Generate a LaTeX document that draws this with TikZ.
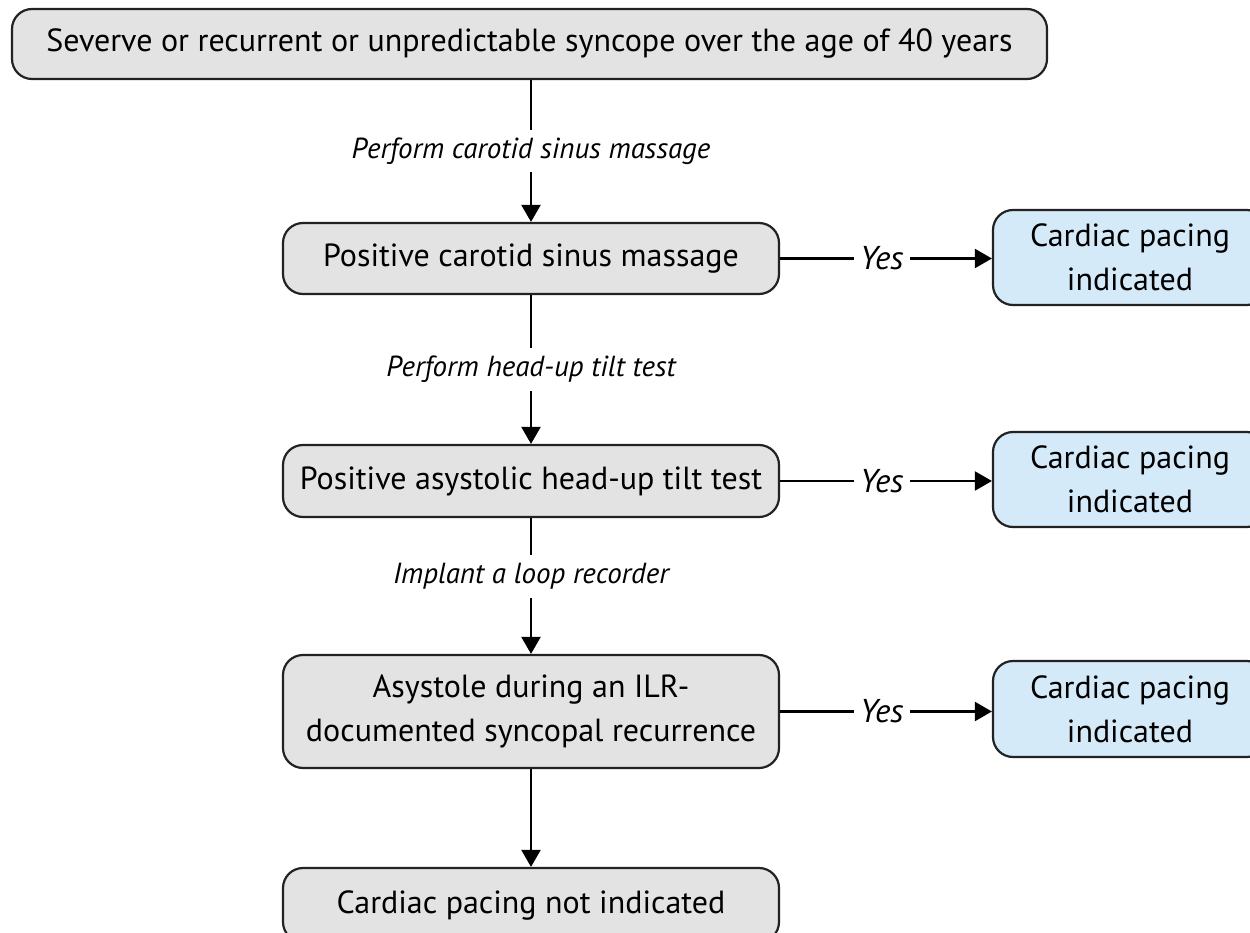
\documentclass[tikz,border=0pt]{standalone}
\usepackage{fontspec}
\setmainfont{PT Sans}
\usetikzlibrary{arrows.meta}
\definecolor{boxgray}{HTML}{E3E3E3}
\definecolor{boxblue}{HTML}{D5EAF9}
\definecolor{edge}{HTML}{222222}
\begin{document}
\begin{tikzpicture}[x=1pt,y=-1pt,
  box/.style={draw=edge, line width=2.2pt, rounded corners=20pt, fill=boxgray,
    align=center, inner sep=0pt, font=\fontsize{32}{44}\selectfont},
  bluebox/.style={box, fill=boxblue},
  conn/.style={line width=2.2pt, -{Triangle[width=19pt,length=17pt]}},
  lab/.style={fill=white, inner xsep=5pt, inner ysep=8pt, font=\fontsize{29}{34}\selectfont\itshape},
  yeslab/.style={lab, inner xsep=6pt, inner ysep=2pt, font=\fontsize{33}{36}\selectfont\itshape}
]
\useasboundingbox (0,0) rectangle (1250,933);
\node[box, minimum width=1035pt, minimum height=70pt] (top) at (529.5,44)
  {Severve or recurrent or unpredictable syncope over the age of 40 years};
\node[box, minimum width=496pt, minimum height=71pt] (b2) at (531,258.5)
  {Positive carotid sinus massage};
\node[box, minimum width=496pt, minimum height=72pt] (b3) at (531,481)
  {Positive asystolic head-up tilt test};
\node[box, minimum width=496pt, minimum height=113pt] (b4) at (531,711.5)
  {Asystole during an ILR-\\documented syncopal recurrence};
\node[box, minimum width=496pt, minimum height=74pt] (b5) at (531,905)
  {Cardiac pacing not indicated};
\node[bluebox, minimum width=274pt, minimum height=95pt] (y2) at (1130,257.5)
  {Cardiac pacing\\indicated};
\node[bluebox, minimum width=274pt, minimum height=95pt] (y3) at (1130,479.5)
  {Cardiac pacing\\indicated};
\node[bluebox, minimum width=274pt, minimum height=96pt] (y4) at (1130,709)
  {Cardiac pacing\\indicated};

\draw[conn] (b2.north |- top.south) -- node[lab] {Perform carotid sinus massage} (b2.north);
\draw[conn] (b2.south) -- node[lab] {Perform head-up tilt test} (b3.north);
\draw[conn] (b3.south) -- node[lab, pos=0.43] {Implant a loop recorder} (b4.north);
\draw[conn] (b4.south) -- (b5.north);

\draw[conn] (b2.east) -- node[yeslab, pos=0.48] {Yes} (b2.east -| y2.west);
\draw[conn] (b3.east) -- node[yeslab, pos=0.48] {Yes} (b3.east -| y3.west);
\draw[conn] (b4.east) -- node[yeslab, pos=0.48] {Yes} (b4.east -| y4.west);
\end{tikzpicture}
\end{document}
